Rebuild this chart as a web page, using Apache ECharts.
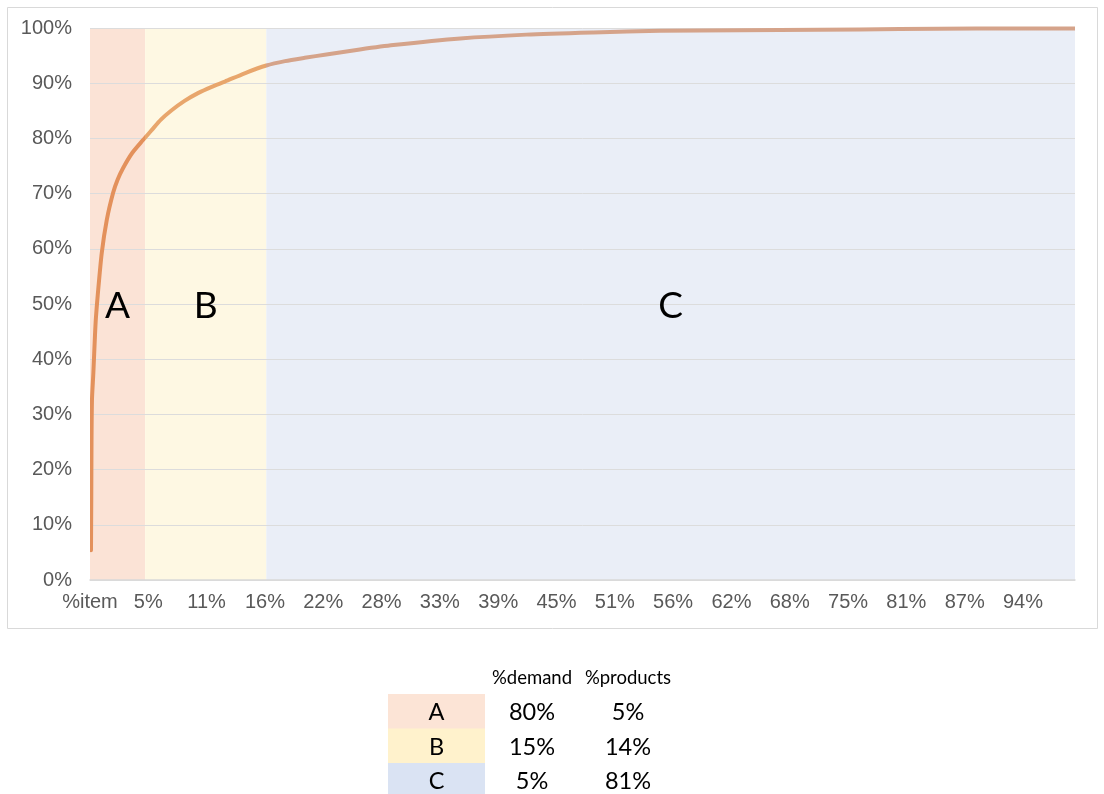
<!DOCTYPE html>
<html>
<head>
<meta charset="utf-8">
<title>ABC analysis</title>
<script src="https://cdn.jsdelivr.net/npm/echarts@6/dist/echarts.min.js"></script>
<style>
  html, body { margin: 0; padding: 0; background: #ffffff; }
  #chart { width: 1104px; height: 794px; }
</style>
</head>
<body>
<div id="chart"></div>
<script>
// x-axis tick labels (cumulative share of items) and their spacing in x units
const xTickLabels = ['%item', '5%', '11%', '16%', '22%', '28%', '33%', '39%', '45%',
  '51%', '56%', '62%', '68%', '75%', '81%', '87%', '94%'];
const xTickStep = 5.92;

// ABC classes: names, x ranges (share of items), band fills, curve colours
const zoneNames = ['A', 'B', 'C'];
const zoneEdges = [0, 5.6, 17.9, 100];
const zoneFills = ['#FBE3D6', '#FEF8E3', '#EAEEF7'];
const curveColors = ['#E3915C', '#E8A66C', '#D5A38A'];

// cumulative demand curve: share of items (%) vs share of demand (%)
const itemShare = [0.1, 0.13, 0.15, 0.2, 0.34, 0.51, 0.6, 0.78, 1.19, 1.7, 2.34, 2.8, 3.35,
  4.3, 5.38, 6.26, 7.2, 8.29, 9.6, 10.96, 12.3, 13.7, 15.7, 17.9, 19.8, 21.8, 24.0, 27.4,
  30.8, 37.6, 44.3, 51.1, 57.9, 66, 74, 82.2, 90, 100];
const demandShare = [5.4, 14.5, 23.6, 32.6, 37.5, 44.5, 47.5, 51.5, 59.2, 65.2, 70.1, 72.5, 74.6,
  77.4, 79.7, 81.5, 83.4, 85.1, 86.8, 88.2, 89.3, 90.3, 91.8, 93.2, 94.0, 94.6, 95.2, 96.1,
  96.9, 98.1, 98.8, 99.2, 99.5, 99.6, 99.7, 99.8, 99.9, 99.9];

// summary table
const tableHeaders = ['%demand', '%products'];
const tableDemand = ['80%', '15%', '5%'];
const tableProducts = ['5%', '14%', '81%'];
const tableFills = ['#FCE4D6', '#FFF2CC', '#DAE3F3'];

const curveData = itemShare.map((x, i) => [x, demandShare[i]]);

// class bands (fill only) and class letters (drawn above the grid lines)
const bandData = zoneNames.map((name, i) => [
  { name: name, xAxis: zoneEdges[i], itemStyle: { color: zoneFills[i] } },
  { xAxis: zoneEdges[i + 1] }
]);
const letterData = zoneNames.map((name, i) => [
  { name: name, xAxis: zoneEdges[i], itemStyle: { color: 'rgba(0,0,0,0)' } },
  { xAxis: zoneEdges[i + 1] }
]);

const pieces = zoneNames.map((name, i) => {
  const p = { gte: zoneEdges[i], color: curveColors[i] };
  if (i < zoneNames.length - 1) p.lt = zoneEdges[i + 1]; else p.lte = zoneEdges[i + 1];
  return p;
});

// table drawn as graphic elements
const tbl = { cellX: 388, cellW: 97, top: 694, rowH: 34.5, headerY: 678,
  colDemand: 532, colProducts: 628 };
const tableGraphics = [];
tableHeaders.forEach((h, j) => {
  tableGraphics.push({
    type: 'text',
    x: j === 0 ? tbl.colDemand : tbl.colProducts, y: tbl.headerY,
    style: { text: h, fill: '#000', font: '18.5px Lato', align: 'center', verticalAlign: 'middle' }
  });
});
zoneNames.forEach((name, i) => {
  const y0 = tbl.top + i * tbl.rowH;
  const cy = y0 + tbl.rowH / 2 + 1.5;
  tableGraphics.push({
    type: 'rect',
    shape: { x: tbl.cellX, y: y0, width: tbl.cellW, height: tbl.rowH + 0.5 },
    style: { fill: tableFills[i] }
  });
  [[tbl.cellX + tbl.cellW / 2, name], [tbl.colDemand, tableDemand[i]], [tbl.colProducts, tableProducts[i]]]
    .forEach(([x, t]) => {
      tableGraphics.push({
        type: 'text', x: x, y: cy, z: 10,
        style: { text: t, fill: '#000', font: '23.5px Lato', align: 'center', verticalAlign: 'middle' }
      });
    });
});

const chart = echarts.init(document.getElementById('chart'), null, { renderer: 'canvas' });

chart.setOption({
  backgroundColor: '#ffffff',
  animation: false,
  grid: { left: 90, right: 29, top: 28, bottom: 214 },
  xAxis: {
    type: 'value',
    min: 0,
    max: 100,
    interval: xTickStep,
    z: 2,
    axisLine: { show: true, lineStyle: { color: '#D9D9D9', width: 1.5 } },
    axisTick: { show: false },
    splitLine: { show: false },
    axisLabel: {
      margin: 12,
      color: '#595959',
      fontSize: 20,
      fontFamily: 'Liberation Sans',
      showMaxLabel: false,
      formatter: function (v) {
        const idx = Math.round(v / xTickStep);
        if (Math.abs(v - idx * xTickStep) > 0.01 || idx >= xTickLabels.length) return '';
        return xTickLabels[idx];
      }
    }
  },
  yAxis: {
    type: 'value',
    min: 0,
    max: 100,
    interval: 10,
    z: 2,
    axisLine: { show: false },
    axisTick: { show: false },
    splitLine: { show: true, lineStyle: { color: '#DCDCDC', width: 1 } },
    axisLabel: {
      margin: 18,
      color: '#595959',
      fontSize: 20,
      fontFamily: 'Liberation Sans',
      formatter: '{value}%'
    }
  },
  visualMap: {
    type: 'piecewise',
    show: false,
    dimension: 0,
    seriesIndex: 2,
    pieces: pieces
  },
  series: [
    {
      name: 'class bands',
      type: 'line',
      z: 1,
      data: [],
      silent: true,
      markArea: { silent: true, z: 1, label: { show: false }, data: bandData }
    },
    {
      name: 'class letters',
      type: 'line',
      z: 4,
      data: [],
      silent: true,
      markArea: {
        silent: true,
        z: 4,
        label: {
          show: true,
          position: 'inside',
          offset: [0, 2],
          color: '#000',
          fontSize: 37,
          fontFamily: 'Lato'
        },
        data: letterData
      }
    },
    {
      name: 'cumulative demand',
      type: 'line',
      z: 3,
      data: curveData,
      showSymbol: false,
      symbol: 'none',
      smooth: 0.25,
      lineStyle: { width: 4, cap: 'round', join: 'round' }
    }
  ],
  graphic: [
    {
      type: 'rect',
      shape: { x: 7.5, y: 7.5, width: 1090, height: 621 },
      style: { fill: 'none', stroke: '#D9D9D9', lineWidth: 1 },
      silent: true
    }
  ].concat(tableGraphics)
});
</script>
</body>
</html>
